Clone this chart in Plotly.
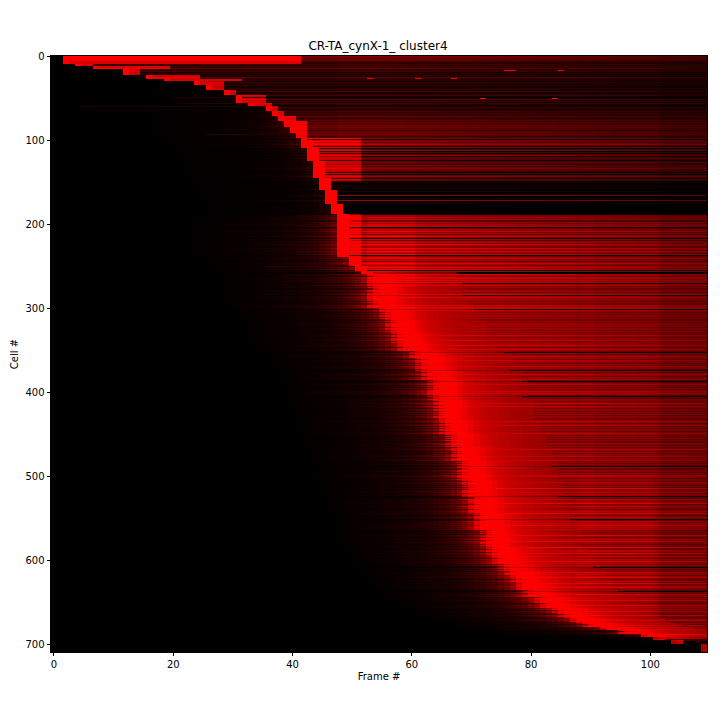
import numpy as np
import plotly.graph_objects as go

TITLE = "CR-TA_cynX-1_ cluster4"
N_ROWS, N_COLS = 710, 110
x_ticks = [0, 20, 40, 60, 80, 100]
y_ticks = [0, 100, 200, 300, 400, 500, 600, 700]

# staircase: first row of a band, frame of the ridge, end of the bright block, glow before it
band_start = [0, 9, 12, 15, 23, 27, 30, 34, 40, 46, 56, 60, 66, 72, 78, 85, 92, 98, 110, 125, 135, 145, 150, 160, 170, 176,
              188, 240, 250, 256, 260, 300, 315, 330, 342, 351, 360, 375, 386, 410, 434, 450, 466, 482, 505, 525, 545, 565,
              585, 595, 605, 613, 620, 628, 636, 644, 652, 658, 664, 670, 676, 680, 684, 688, 692, 696, 700]
band_onset = [2, 4, 7, 12, 16, 19, 24, 26, 29, 31, 33, 36, 37, 38, 39, 40, 41, 42, 43, 44, 44, 45, 45, 46, 46, 47,
              48, 50, 51, 52, 53, 55, 56, 57, 58, 60, 61, 62, 63, 64, 65, 66, 67, 68, 69, 70, 71, 72,
              73, 74, 75, 76, 77, 78, 79, 81, 82, 84, 85, 87, 89, 92, 95, 98, 101, 104, 109]
band_end = [42, 7, 20, 15, 25, 32, 29, 29, 31, 36, 37, 38, 39, 41, 43, 43, 43, 52, 52, 52, 52, 52, 47, 48, 48, 49,
            52, 52, 53, 54, 53, 55, 56, 57, 58, 60, 61, 62, 63, 64, 65, 66, 67, 68, 69, 70, 71, 72,
            73, 74, 75, 76, 77, 78, 79, 81, 82, 84, 85, 87, 89, 92, 95, 98, 104, 110, 110]
band_glow = [0, 0, 0, 0.1, 0.1, 0.1, 0.2, 0.3, 0.3, 0.4, 0.3, 0.5, 0.6, 0.6, 0.7, 0.7, 0.7, 0.6, 0.5, 0.5, 0.5, 0.5, 0.5, 0.5, 0.6, 0.6,
             0.8, 0.9, 1, 1, 1, 1, 1, 1, 1, 1, 1, 1, 1, 1, 1, 1, 1, 1, 1, 1, 1, 1,
             1, 1, 1, 1, 1, 1, 1, 1, 1, 1, 1, 0.9, 0.8, 0.7, 0.6, 0.5, 0.3, 0.2, 0]

# brightness of each cell's late plateau, 0 to 9, ten cells to a string
row_level = [
    "5544543223", "3232412231", "2312142212", "1221321122", "1131121310",
    "1421313215", "1321243232", "3343234334", "4354354434", "4545435450",
    "4543564045", "0350340351", "3043034132", "4341534203", "4045301430",
    "1000101000", "0100005001", "0050010000", "0001000010", "5565645465",
    "6656046567", "5646575064", "6565765657", "6575657056", "6756465765",
    "6705706050", "7657576767", "6067565656", "6565706767", "6656565767",
    "7067656576", "6565756566", "5665667565", "6575656676", "5666756567",
    "6050656756", "6576565657", "5665067567", "6565675056", "6756566567",
    "6576505656", "6567565765", "5665657656", "6565676565", "7565666567",
    "6656565765", "5660565676", "6565665756", "6765656570", "6556675657",
    "7565665476", "6567585667", "6576056576", "6658567656", "5676586567",
    "6505767568", "6765756567", "5865676586", "6576586567", "7586567657",
    "6586757650", "6567586756", "7865667586", "6758665076", "5867657686",
    "7656867567", "5867658656", "6786567586", "7568656758", "5500544000",
    "0000000000"]

# how the plateau dims along the film, frame by frame
frame_gain = [1.0] * 48 + [1.08] * 5 + [1.08, 1.08, 1.07, 1.07, 1.06, 1.06, 1.05, 1.05,
              1.04, 1.03, 1.02, 1.01, 1.0, 1.0, 0.99, 0.98, 0.98, 0.97, 0.96, 0.95,
              0.94, 0.94, 0.93, 0.92, 0.92, 0.91, 0.9, 0.9, 0.89, 0.88, 0.88, 0.87,
              0.86, 0.86, 0.85, 0.82, 0.84, 0.84, 0.8, 0.8, 0.8, 0.78, 0.78, 0.78,
              0.78, 0.77, 0.77, 0.76, 0.76, 0.66, 0.66, 0.66, 0.65, 0.65, 0.64, 0.64, 0.64, 0.72]

ridge_fade = [0.85, 1, 1, 1, 0.95, 0.88, 0.82, 0.78, 0.75, 0.72, 0.7, 0.68, 0.66, 0.64, 0.62, 0.6]
lead_glow = [0.5, 0.38, 0.3, 0.24, 0.2, 0.17, 0.15, 0.13, 0.11, 0.1, 0.09, 0.08, 0.07, 0.07, 0.06,
             0.05, 0.05, 0.04, 0.04, 0.03, 0.03, 0.02, 0.02, 0.01]

faint_row = [60, 46, 49, 56, 93, 250]
faint_from = [5, 14, 20, 22, 26, 36]
spot_row = [17, 17, 26, 26, 26, 50, 50]
spot_from = [76, 85, 61, 67, 53, 72, 84]
spot_to = [78, 86, 62, 68, 54, 73, 85]

digits = "".join(row_level)
z = np.zeros((N_ROWS, N_COLS))
for r in range(N_ROWS):
    b = max(i for i, s in enumerate(band_start) if s <= r)
    on, end, glow = band_onset[b], band_end[b], band_glow[b]
    d = int(digits[r])
    level = d / 9
    if r >= 190 and d:
        level = max(0.12, 0.66 + (level - 0.64) * 1.5)
    if r < 100:
        level *= 0.8
    if r >= 260 and d in (5, 8):
        on += 1
    for c in range(N_COLS):
        if c < on:
            k = on - c - 1
            if k < len(lead_glow):
                z[r, c] = lead_glow[k] * glow * (level * 1.5 if level else 0.4)
        else:
            gain = frame_gain[c]
            if 188 <= r < 300 and 53 <= c <= 60:
                gain *= 1.12
            if 500 <= r < 690 and 88 <= c <= 100:
                gain *= 1.08
            tail = level * gain
            k = c - on
            if c < end and r < 300:
                block = ((0.7 if r < 100 else 0.5) + level * 0.8) if level else 0.2
                v = 1.0 if k < (1 if r < 100 else 2) else min(block, 1.0)
            elif r >= 256 and k < len(ridge_fade):
                v = max(ridge_fade[k] * (0.78 + level * 0.35), tail) if r < 695 or k < 2 else tail
            else:
                v = tail
            z[r, c] = min(v, 1.0)
for r, f in zip(faint_row, faint_from):
    z[r, f:band_onset[max(i for i, s in enumerate(band_start) if s <= r)]] = 0.15
for r, a, b in zip(spot_row, spot_from, spot_to):
    z[r, a:b] = 0.95
z[695:699, 108] = 0.2

fig = go.Figure(go.Heatmap(
    z=z, x=np.arange(N_COLS), y=np.arange(N_ROWS),
    zmin=0, zmax=1, colorscale=[[0, "#000000"], [1, "#ff0000"]],
    showscale=False, hoverinfo="skip"))

axis = dict(showgrid=False, zeroline=False, ticks="outside", ticklen=3.5, tickwidth=0.8,
            tickcolor="black", showline=True, linecolor="black", linewidth=0.8, mirror=True,
            tickfont=dict(family="DejaVu Sans", size=10, color="black"))
fig.update_xaxes(range=[-0.5, 109.5], tickvals=x_ticks,
                 title=dict(text="Frame #", font=dict(family="DejaVu Sans", size=10, color="black"), standoff=3), **axis)
fig.update_yaxes(range=[709.5, -0.5], tickvals=y_ticks,
                 title=dict(text="Cell #", font=dict(family="DejaVu Sans", size=10, color="black"), standoff=5), **axis)
fig.update_layout(
    width=720, height=720, paper_bgcolor="white", plot_bgcolor="black",
    margin=dict(l=51, r=13, t=56, b=68, autoexpand=False),
    title=dict(text=TITLE, x=0.525, xanchor="center", y=0.936, yanchor="middle",
               font=dict(family="DejaVu Sans", size=12, color="black")))
fig.write_html("out.html", post_script="document.body.style.margin='0';", config={"displayModeBar": False})
